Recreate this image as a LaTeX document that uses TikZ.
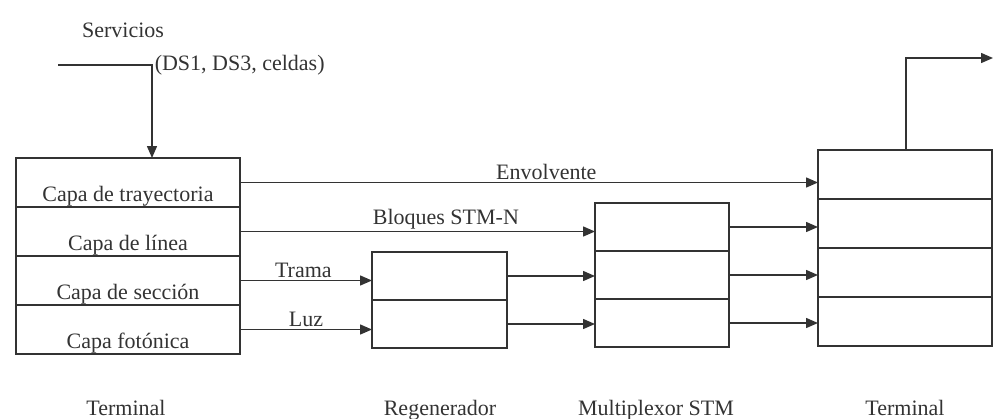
\documentclass[tikz,border=0pt]{standalone}
\usepackage{fontspec}
\setmainfont{Liberation Serif}
\usetikzlibrary{positioning,arrows.meta}

\tikzset{
    capa/.style={draw, line width=1.5pt, inner sep=0pt, outer sep=0pt, anchor=north west},
    flecha/.style={line width=1.5pt, -{Triangle[length=12pt,width=10pt]}},
    rotulo/.style={inner sep=2pt},
}

\begin{document}
\begin{tikzpicture}[x=1pt, y=-1pt, font=\fontsize{22}{26}\selectfont, black!80]
    \useasboundingbox (0,0) rectangle (994,418);

    % Terminal de origen
    \node[capa, minimum width=224pt, minimum height=49pt, text height=38pt, text depth=0pt] (ta) at (16,158) {Capa de trayectoria};
    \node[capa, minimum width=224pt, minimum height=49pt, text height=38pt, text depth=0pt, below=0pt of ta] (tb) {Capa de línea};
    \node[capa, minimum width=224pt, minimum height=49pt, text height=38pt, text depth=0pt, below=0pt of tb] (tc) {Capa de sección};
    \node[capa, minimum width=224pt, minimum height=49pt, text height=38pt, text depth=0pt, below=0pt of tc] (td) {Capa fotónica};

    % Regenerador
    \node[capa, minimum width=135pt, minimum height=48pt] (ra) at (372,252) {};
    \node[capa, minimum width=135pt, minimum height=48pt, below=0pt of ra] (rb) {};

    % Multiplexor
    \node[capa, minimum width=134pt, minimum height=48pt] (ma) at (595,203) {};
    \node[capa, minimum width=134pt, minimum height=48pt, below=0pt of ma] (mb) {};
    \node[capa, minimum width=134pt, minimum height=48pt, below=0pt of mb] (mc) {};

    % Terminal de destino
    \node[capa, minimum width=174pt, minimum height=49pt] (sa) at (818,150) {};
    \node[capa, minimum width=174pt, minimum height=49pt, below=0pt of sa] (sb) {};
    \node[capa, minimum width=174pt, minimum height=49pt, below=0pt of sb] (sc) {};
    \node[capa, minimum width=174pt, minimum height=49pt, below=0pt of sc] (sd) {};

    % Entrada de servicios
    \node (serv) at (123,30) {Servicios};
    \coordinate (ent) at (58,65);
    \coordinate (codo) at (152,65);
    \draw[flecha] (ent) -- (codo) node[right, rotulo] {(DS1, DS3, celdas)} -- (codo |- ta.north);

    % Salida
    \coordinate (sube) at (906,58);
    \coordinate (fin) at (993,58);
    \draw[flecha] (sa.north -| sube) -- (sube) -- (fin);

    % Enlaces entre capas
    \draw[flecha] (ta.east) -- (ta.east -| sa.west) node[pos=0.53, above, rotulo] {Envolvente};
    \draw[flecha] (tb.east) -- (tb.east -| ma.west) node[pos=0.58, above, rotulo] {Bloques STM-N};
    \draw[flecha] (tc.east) -- (tc.east -| ra.west) node[pos=0.48, above, rotulo] {Trama};
    \draw[flecha] (td.east) -- (td.east -| rb.west) node[pos=0.5, above, rotulo] {Luz};

    \draw[flecha] (ra.east) -- (ra.east -| mb.west);
    \draw[flecha] (rb.east) -- (rb.east -| mc.west);

    \draw[flecha] (ma.east) -- (ma.east -| sb.west);
    \draw[flecha] (mb.east) -- (mb.east -| sc.west);
    \draw[flecha] (mc.east) -- (mc.east -| sd.west);

    % Nombres de los equipos
    \node[anchor=base] (nt) at (126,415) {Terminal};
    \node[anchor=base] (nr) at (440,415) {Regenerador};
    \node[anchor=base] (nm) at (656,415) {Multiplexor STM};
    \node[anchor=base] (ns) at (905,415) {Terminal};
\end{tikzpicture}
\end{document}
